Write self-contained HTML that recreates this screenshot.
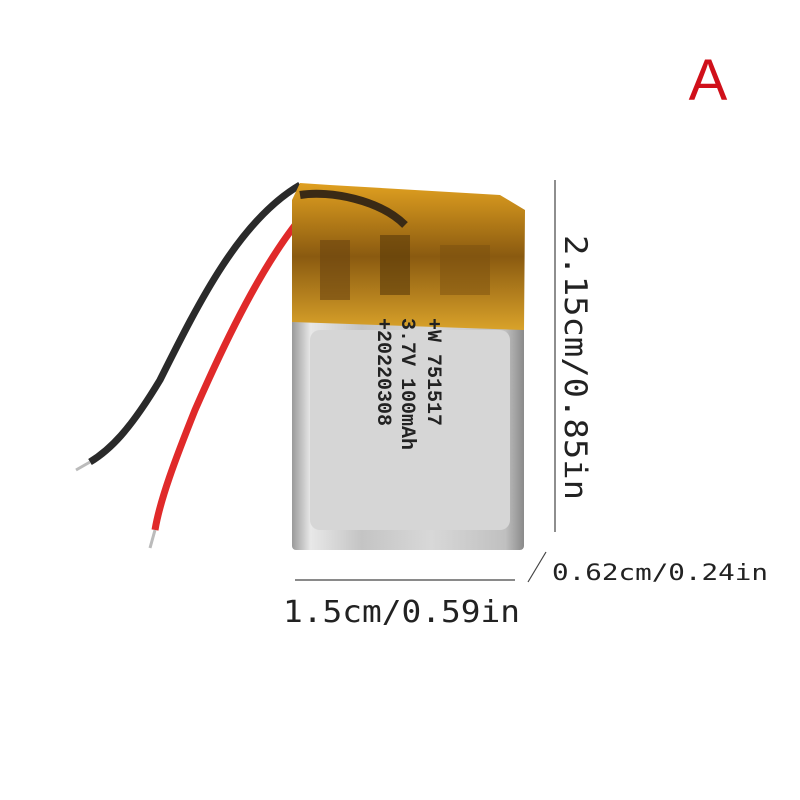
<!DOCTYPE html>
<html><head><meta charset="utf-8"><style>body{margin:0;background:#fff}svg{display:block}</style></head>
<body>
<svg width="800" height="800" viewBox="0 0 800 800" xmlns="http://www.w3.org/2000/svg">
<defs>
<linearGradient id="sil" x1="0" x2="1" y1="0" y2="0">
<stop offset="0" stop-color="#9a9a9a"/><stop offset="0.08" stop-color="#e8e8e8"/><stop offset="0.3" stop-color="#c4c4c4"/><stop offset="0.6" stop-color="#d8d8d8"/><stop offset="0.92" stop-color="#c0c0c0"/><stop offset="1" stop-color="#8a8a8a"/>
</linearGradient>
<linearGradient id="yel" x1="0" x2="0" y1="0" y2="1">
<stop offset="0" stop-color="#e0a020"/><stop offset="0.5" stop-color="#8a5a10"/><stop offset="1" stop-color="#d9a22a"/>
</linearGradient>
</defs>
<text x="708" y="100" font-family="Liberation Sans, sans-serif" font-size="58" fill="#d0101a" text-anchor="middle">A</text>
<path d="M300 185 C 240 220, 200 300, 160 380 C 130 430, 110 450, 90 462" stroke="#2a2a2a" stroke-width="7" fill="none"/>
<line x1="90" y1="462" x2="76" y2="470" stroke="#bbb" stroke-width="3"/>
<path d="M312 205 C 270 250, 230 330, 195 410 C 175 460, 160 500, 155 530" stroke="#e02a2a" stroke-width="7" fill="none"/>
<line x1="155" y1="530" x2="150" y2="548" stroke="#bbb" stroke-width="3"/>
<rect x="292" y="310" width="232" height="240" rx="4" fill="url(#sil)"/>
<rect x="310" y="330" width="200" height="200" rx="10" fill="#d6d6d6"/>
<path d="M292 200 L300 183 L330 185 L500 195 L525 210 L524 330 L292 322 Z" fill="url(#yel)"/>
<rect x="320" y="240" width="30" height="60" fill="#6a4510" opacity="0.6"/>
<rect x="380" y="235" width="30" height="60" fill="#5a3a0a" opacity="0.6"/>
<rect x="440" y="245" width="50" height="50" fill="#7a5010" opacity="0.5"/>
<path d="M300 195 C 330 190, 380 200, 405 225" stroke="#3a2a15" stroke-width="8" fill="none"/>
<g font-family="Liberation Mono, monospace" font-size="20" font-weight="bold" fill="#222">
<text transform="translate(428,318) rotate(90)">+W 751517</text>
<text transform="translate(402,318) rotate(90)">3.7V 100mAh</text>
<text transform="translate(378,318) rotate(90)">+20220308</text>
</g>
<g font-family="DejaVu Sans Mono, monospace" fill="#222">
<line x1="555" y1="180" x2="555" y2="532" stroke="#444" stroke-width="1.2"/>
<text transform="translate(565,235) rotate(90)" font-size="31" textLength="265" lengthAdjust="spacingAndGlyphs">2.15cm/0.85in</text>
<line x1="295" y1="580" x2="515" y2="580" stroke="#444" stroke-width="1.2"/>
<text x="283" y="622" font-size="30" textLength="237" lengthAdjust="spacingAndGlyphs">1.5cm/0.59in</text>
<line x1="528" y1="582" x2="546" y2="552" stroke="#444" stroke-width="1.2"/>
<text x="552" y="580" font-size="22" textLength="216" lengthAdjust="spacingAndGlyphs">0.62cm/0.24in</text>
</g>
</svg>
</body></html>
